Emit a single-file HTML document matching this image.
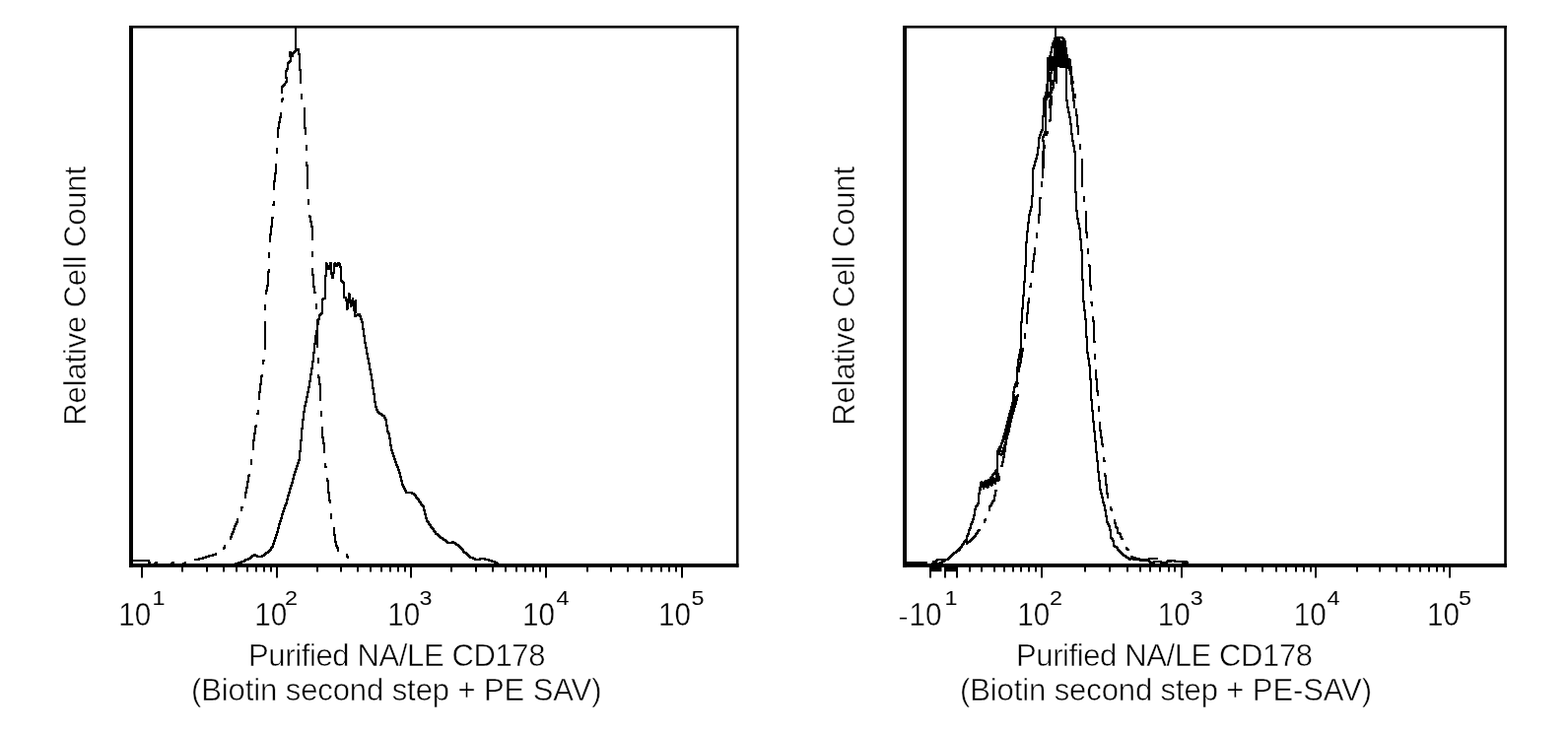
<!DOCTYPE html>
<html><head><meta charset="utf-8"><title>CD178 histograms</title>
<style>html,body{margin:0;padding:0;background:#fff;width:1591px;height:743px;overflow:hidden}svg{display:block}</style>
</head><body>
<svg width="1591" height="743" viewBox="0 0 1591 743" fill="#000"><rect x="131" y="26" width="4" height="549.8"/>
<rect x="131" y="26" width="618.5" height="2.6"/>
<rect x="746.9" y="26" width="2.6" height="549.8"/>
<rect x="131" y="572" width="618.5" height="3.8"/>
<rect x="143" y="575" width="2" height="11.5"/>
<rect x="280" y="575" width="2" height="11.5"/>
<rect x="416" y="575" width="2" height="11.5"/>
<rect x="553" y="575" width="2" height="11.5"/>
<rect x="691" y="575" width="2" height="11.5"/>
<rect x="184" y="575" width="2" height="5.5"/>
<rect x="209" y="575" width="2" height="5.5"/>
<rect x="226" y="575" width="2" height="5.5"/>
<rect x="239" y="575" width="2" height="5.5"/>
<rect x="250" y="575" width="2" height="5.5"/>
<rect x="259" y="575" width="2" height="5.5"/>
<rect x="267" y="575" width="2" height="5.5"/>
<rect x="274" y="575" width="2" height="5.5"/>
<rect x="321" y="575" width="2" height="5.5"/>
<rect x="345" y="575" width="2" height="5.5"/>
<rect x="362" y="575" width="2" height="5.5"/>
<rect x="375" y="575" width="2" height="5.5"/>
<rect x="386" y="575" width="2" height="5.5"/>
<rect x="395" y="575" width="2" height="5.5"/>
<rect x="403" y="575" width="2" height="5.5"/>
<rect x="410" y="575" width="2" height="5.5"/>
<rect x="457" y="575" width="2" height="5.5"/>
<rect x="482" y="575" width="2" height="5.5"/>
<rect x="499" y="575" width="2" height="5.5"/>
<rect x="512" y="575" width="2" height="5.5"/>
<rect x="523" y="575" width="2" height="5.5"/>
<rect x="532" y="575" width="2" height="5.5"/>
<rect x="540" y="575" width="2" height="5.5"/>
<rect x="547" y="575" width="2" height="5.5"/>
<rect x="595" y="575" width="2" height="5.5"/>
<rect x="619" y="575" width="2" height="5.5"/>
<rect x="636" y="575" width="2" height="5.5"/>
<rect x="650" y="575" width="2" height="5.5"/>
<rect x="660" y="575" width="2" height="5.5"/>
<rect x="670" y="575" width="2" height="5.5"/>
<rect x="678" y="575" width="2" height="5.5"/>
<rect x="685" y="575" width="2" height="5.5"/>
<rect x="916" y="26" width="4" height="549.8"/>
<rect x="916" y="26" width="612.8" height="2.6"/>
<rect x="1526.2" y="26" width="2.6" height="549.8"/>
<rect x="916" y="572" width="612.8" height="3.8"/>
<rect x="943" y="575" width="2" height="11.5"/>
<rect x="958" y="575" width="2" height="11.5"/>
<rect x="970" y="575" width="2" height="11.5"/>
<rect x="1056" y="575" width="2" height="11.5"/>
<rect x="1198" y="575" width="2" height="11.5"/>
<rect x="1334" y="575" width="2" height="11.5"/>
<rect x="1470" y="575" width="2" height="11.5"/>
<rect x="983" y="575" width="2" height="5.5"/>
<rect x="995" y="575" width="2" height="5.5"/>
<rect x="1008" y="575" width="2" height="5.5"/>
<rect x="1018" y="575" width="2" height="5.5"/>
<rect x="1027" y="575" width="2" height="5.5"/>
<rect x="1035" y="575" width="2" height="5.5"/>
<rect x="1043" y="575" width="2" height="5.5"/>
<rect x="1050" y="575" width="2" height="5.5"/>
<rect x="1100" y="575" width="2" height="5.5"/>
<rect x="1125" y="575" width="2" height="5.5"/>
<rect x="1143" y="575" width="2" height="5.5"/>
<rect x="1156" y="575" width="2" height="5.5"/>
<rect x="1166" y="575" width="2" height="5.5"/>
<rect x="1176" y="575" width="2" height="5.5"/>
<rect x="1185" y="575" width="2" height="5.5"/>
<rect x="1191" y="575" width="2" height="5.5"/>
<rect x="1239" y="575" width="2" height="5.5"/>
<rect x="1263" y="575" width="2" height="5.5"/>
<rect x="1280" y="575" width="2" height="5.5"/>
<rect x="1294" y="575" width="2" height="5.5"/>
<rect x="1304" y="575" width="2" height="5.5"/>
<rect x="1314" y="575" width="2" height="5.5"/>
<rect x="1322" y="575" width="2" height="5.5"/>
<rect x="1329" y="575" width="2" height="5.5"/>
<rect x="1376" y="575" width="2" height="5.5"/>
<rect x="1399" y="575" width="2" height="5.5"/>
<rect x="1416" y="575" width="2" height="5.5"/>
<rect x="1429" y="575" width="2" height="5.5"/>
<rect x="1440" y="575" width="2" height="5.5"/>
<rect x="1449" y="575" width="2" height="5.5"/>
<rect x="1457" y="575" width="2" height="5.5"/>
<rect x="1464" y="575" width="2" height="5.5"/>
<rect x="944" y="575" width="11.5" height="5.2"/>
<rect x="958" y="575" width="14" height="5.2"/>
<text x="153.20" y="634.6" font-family="Liberation Sans, Arial, sans-serif" stroke="#fff" stroke-width="0.4" font-size="33" text-anchor="end" textLength="33" lengthAdjust="spacingAndGlyphs">10</text>
<text x="154.50" y="613.6" font-family="Liberation Sans, Arial, sans-serif" font-size="21" textLength="13" lengthAdjust="spacingAndGlyphs">1</text>
<text x="291.20" y="634.6" font-family="Liberation Sans, Arial, sans-serif" stroke="#fff" stroke-width="0.4" font-size="33" text-anchor="end" textLength="33" lengthAdjust="spacingAndGlyphs">10</text>
<text x="289.00" y="613.6" font-family="Liberation Sans, Arial, sans-serif" font-size="21" textLength="13" lengthAdjust="spacingAndGlyphs">2</text>
<text x="426.30" y="634.6" font-family="Liberation Sans, Arial, sans-serif" stroke="#fff" stroke-width="0.4" font-size="33" text-anchor="end" textLength="33" lengthAdjust="spacingAndGlyphs">10</text>
<text x="425.40" y="613.6" font-family="Liberation Sans, Arial, sans-serif" font-size="21" textLength="13" lengthAdjust="spacingAndGlyphs">3</text>
<text x="562.90" y="634.6" font-family="Liberation Sans, Arial, sans-serif" stroke="#fff" stroke-width="0.4" font-size="33" text-anchor="end" textLength="33" lengthAdjust="spacingAndGlyphs">10</text>
<text x="564.60" y="613.6" font-family="Liberation Sans, Arial, sans-serif" font-size="21" textLength="13" lengthAdjust="spacingAndGlyphs">4</text>
<text x="700.90" y="634.6" font-family="Liberation Sans, Arial, sans-serif" stroke="#fff" stroke-width="0.4" font-size="33" text-anchor="end" textLength="33" lengthAdjust="spacingAndGlyphs">10</text>
<text x="701.50" y="613.6" font-family="Liberation Sans, Arial, sans-serif" font-size="21" textLength="13" lengthAdjust="spacingAndGlyphs">5</text>
<text x="955.40" y="634.6" font-family="Liberation Sans, Arial, sans-serif" stroke="#fff" stroke-width="0.4" font-size="33" text-anchor="end" textLength="33" lengthAdjust="spacingAndGlyphs">10</text>
<text x="958.50" y="613.6" font-family="Liberation Sans, Arial, sans-serif" font-size="21" textLength="13" lengthAdjust="spacingAndGlyphs">1</text>
<text x="1065.30" y="634.6" font-family="Liberation Sans, Arial, sans-serif" stroke="#fff" stroke-width="0.4" font-size="33" text-anchor="end" textLength="33" lengthAdjust="spacingAndGlyphs">10</text>
<text x="1065.00" y="613.6" font-family="Liberation Sans, Arial, sans-serif" font-size="21" textLength="13" lengthAdjust="spacingAndGlyphs">2</text>
<text x="1207.70" y="634.6" font-family="Liberation Sans, Arial, sans-serif" stroke="#fff" stroke-width="0.4" font-size="33" text-anchor="end" textLength="33" lengthAdjust="spacingAndGlyphs">10</text>
<text x="1207.80" y="613.6" font-family="Liberation Sans, Arial, sans-serif" font-size="21" textLength="13" lengthAdjust="spacingAndGlyphs">3</text>
<text x="1345.80" y="634.6" font-family="Liberation Sans, Arial, sans-serif" stroke="#fff" stroke-width="0.4" font-size="33" text-anchor="end" textLength="33" lengthAdjust="spacingAndGlyphs">10</text>
<text x="1346.40" y="613.6" font-family="Liberation Sans, Arial, sans-serif" font-size="21" textLength="13" lengthAdjust="spacingAndGlyphs">4</text>
<text x="1480.90" y="634.6" font-family="Liberation Sans, Arial, sans-serif" stroke="#fff" stroke-width="0.4" font-size="33" text-anchor="end" textLength="33" lengthAdjust="spacingAndGlyphs">10</text>
<text x="1480.10" y="613.6" font-family="Liberation Sans, Arial, sans-serif" font-size="21" textLength="13" lengthAdjust="spacingAndGlyphs">5</text>
<text x="911.10" y="637" font-family="Liberation Sans, Arial, sans-serif" stroke="#fff" stroke-width="0.8" font-size="33">-</text>
<text x="252" y="675.7" font-family="Liberation Sans, Arial, sans-serif" stroke="#fff" stroke-width="0.5" font-size="31" textLength="301.5" lengthAdjust="spacing">Purified NA/LE CD178</text>
<text x="194" y="711" font-family="Liberation Sans, Arial, sans-serif" stroke="#fff" stroke-width="0.5" font-size="31" textLength="416.5" lengthAdjust="spacing">(Biotin second step + PE SAV)</text>
<text x="1031" y="675.7" font-family="Liberation Sans, Arial, sans-serif" stroke="#fff" stroke-width="0.5" font-size="31" textLength="301" lengthAdjust="spacing">Purified NA/LE CD178</text>
<text x="974" y="711" font-family="Liberation Sans, Arial, sans-serif" stroke="#fff" stroke-width="0.5" font-size="31" textLength="418" lengthAdjust="spacing">(Biotin second step + PE-SAV)</text>
<text transform="translate(86.5,431.7) rotate(-90)" font-family="Liberation Sans, Arial, sans-serif" stroke="#fff" stroke-width="0.5" font-size="31" textLength="262.8" lengthAdjust="spacing">Relative Cell Count</text>
<text transform="translate(867.2,431.7) rotate(-90)" font-family="Liberation Sans, Arial, sans-serif" stroke="#fff" stroke-width="0.5" font-size="31" textLength="262.8" lengthAdjust="spacing">Relative Cell Count</text>
<path d="M135 574H136H137H138H139H140H141H142H143H144H145H146H147H148H149H150H151H152H153H154H155H156H157H158H159H160H161H162H163H164H165H166H167H168H169H170H171H172H173H174H175H176H177H178H179H180H181H182H183H184H185H186H187H188H189H190H191H192H193H194H195H196H197H198H199H200H201H202H203H204H205H206H207H208H209H210H211H212H213H214H215H216H217H218H219H220H221H222H223H224H225H226H227H228H229H230H231H232H233H234H235H236H237H238V573H239V572H240H241H242V571H243H244H245V570H246H247H248V569H249V568H250H251H252V567H253H254V566H255V565H256V564H257H258V563H259V564H260H261V565H262H263H264H265H266V564H267H268V563H269V562H270V561H271H272V560H273V559H274V558H275V557V556H276V555H277V554V553V552H278V551V550V549H279V548V547V546H280V545V544V543H281V542V541V540H282V539V538V537V536H283V535V534V533V532H284V531V530V529H285V528V527V526H286V525V524V523V522H287V521V520V519H288V518V517V516H289V515V514V513H290V512V511H291V510V509V508V507H292V506V505V504V503H293V502V501V500H294V499V498V497V496H295V495V494V493H296V492V491V490H297V489V488V487V486H298V485V484V483V482H299V481V480V479H300V478V477V476H301V475V474V473H302V472V471V470H303V469V468V467H304V466V465V464V463V462V461V460V459V458H305V457V456V455V454V453V452V451V450V449V448V447H306V446V445V444V443V442V441V440V439V438V437V436V435H307V434V433V432V431V430V429V428V427V426H308V425V424V423V422V421V420V419V418H309V417V416V415V414V413V412H310V411V410V409V408H311V407V406V405V404V403H312V402V401V400V399V398H313V397V396V395V394V393H314V392V391V390V389V388V387H315V386V385V384V383V382V381V380H316V379V378V377V376V375V374H317V373V372V371V370V369V368V367H318V366V365V364V363V362V361V360V359V358H319V357V356V355V354V353V352V351V350V349H320V348V347V346V345V344V343V342V341H321V340V339V338V337V336H322V335V334V333V332V331V330V329H323V328V327V326V325V324H324V323V322V321V320H325V319H326V318H327V317V316V315V314V313V312V311V310V309V308V307V306V305V304H328V303H329H330V302V301V300V299V298V297V296V295V294V293V292V291V290V289V288V287V286V285V284V283V282V281V280H331V279V278V277V276V275V274V273V272V271V270V269V268V267V266V267V268H332V269V270V271V272H333V273V274V273H334V272V271V270H335V269V268V267H336V266V267V268V269V270V271V272V273V274V275V276V277V278H337V279V280V281V282H338V283V282V281V280V279V278V277H339V276V275V274V273V272V271V270V269V268H340V267V266V267V268H341V269V270H342V271V270V269H343V268V267H344V266V267V268H345V269V270V271H346V272V273V274V275V276V277V278V279V280V281V282V283V284V285H347V286H348V287H349V288V289V290V291V292V293V294V295V296V297V298V299V300V301V302H350H351V303V304V305H352V306V307V308V309V310V311V312V313V314V315V314V313H353V312V311V310V309V308V307V306V305V304H354V303V302V301V300V299V298V297V298V299H355V300V301V302V303V304V305V306V307H356V308V309V310V311V312V311V310H357V309V308V307V306V305H358V304V303V302V303V304V305V306V307V308V309H359V310V311V312V313V314V315V316V315V314V313H360V312V311V310V309V308V307V306H361V305V304V305V306V307V308V309V310V311V312V313V314V315V316V317H360V318V319V320V321H361V320H362H363V319H364H365V320V321H366V322V323V324H367V325V326V327H368V328V329V330V331V332V333V334H369V335V336V337V338V339V340V341H370V342V343V344V345V346V347V348H371V349V350V351V352V353H372V354V355V356V357V358V359H373V360V361V362V363V364H374V365V366V367V368V369H375V370V371V372V373V374V375H376V376V377V378V379V380H377V381V382V383V384V385V386H378V387V388V389V390V391V392V393V394H379V395V396V397V398V399V400H380V401V402V403V404V405V406V407V408H381V409V410V411V412V413H382V414V415V416H383V417V418H384V419H385V420H386H387V421H388V422H389H390V423V424H391V425V426H392V427V428V429V430V431V432H393V433V434V435V436V437V438H394V439V440H395V441V442V443V444V445H396V446V447V448V449V450V451V452H397V453V454V455V456V457H398V458V459V460H399V461V462V463H400V464V465V466H401V467V468V469H402V470V471V472H403V473V474H404V475V476V477H405V478V479V480H406V481V482V483V484H407V485V486V487V488H408V489V490V491V492H409V493V494H410V495V496H411V497V498H412V499V500H413H414H415H416H417H418V501H419H420V502H421V503H422V504V505H423V506H424V507H425V508V509H426V510H427V511V512H428V513H429V514H430V515V516V517V518H431V519V520V521V522H432V523V524V525V526H433V527V528V529H434V530H435V531V532H436V533H437V534V535H438V536H439V537H440V538V539H441V540H442V541V542H443H444V543H445V544H446V545H447V546H448H449V547H450V548H451H452V549H453V550H454V551H455H456H457H458H459V550H460V551H461H462V552H463V553H464H465V554H466V555H467V556H468V557H469V558H470V559V560H471V561H472H473V562H474V563H475V564H476V565H477V566H478H479H480V567H481H482V568H483H484H485H486H487V567H488H489H490H491H492V568H493H494H495H496V569H497H498H499V570H500H501H502V571H503H504V572H505V573H506V574H507H508H509H510H511H512H513H514H515" fill="none" stroke="#000" stroke-width="2" stroke-linejoin="miter" shape-rendering="crispEdges"/>
<path d="M133 569H134H135H136H137H138H139H140H141H142H143H144H145H146H147H148H149H150H151V570V571H152V572V573V574H153H154H155H156H157V573V572H158V571H159V572V573H160V574H161H162H163H164H165H166H167H168H169H170H171H172H173V573H174V572H175V571H176V572V573H177V574H178H179H180H181H182H183H184H185V573H186V572H187V571" fill="none" stroke="#000" stroke-width="2" stroke-linejoin="miter" shape-rendering="crispEdges"/>
<path d="M290 85H289V86H288V87H287V88H286V89V90V91V92V93V94V95H287V96H288V97H289H290V98H289V99H288V100H287V101H286V102V103V104V105V106V107V108V109V110V111V112H285V113V114V115V116V117V118V119H284V120V121V122V123V124H283V125V126V127V128V129V130H282V131V132V133V134V135V136V137V138V139H281V140V141V142V143V144V145V146V147V148V149V150V151V152V153V154V155V156V157V158V159V160V161V162V163V164H280V165V166V167V168V169V170V171V172V173V174V175V176H279V177V178V179V180V181V182V183V184H278V185V186V187V188V189V190V191V192V193V194V195V196V197V198V199V200V201V202V203V204V205V206V207V208H277V209V210V211V212V213V214V215V216V217V218V219V220V221H276V222V223V224V225V226V227V228V229V230H275V231V232V233V234V235V236V237V238H274V239V240V241V242V243V244V245V246H273V247V248V249V250V251V252V253V254V255V256V257V258V259V260V261V262V263V264V265V266V267V268V269V270V271V272V273V274V275V276H272V277V278V279V280V281V282V283V284V285V286V287V288V289V290H271V291V292V293V294V295H270V296V297V298V299V300H269V301V302V303V304V305V306V307V308V309V310V311V312V313V314V315V316V317V318V319V320V321V322V323V324V325V326V327V328V329V330V331V332V333V334V335V336V337V338V339V340V341V342V343V344V345V346V347V348V349V350V351V352V353V354V355V356V357H268V358V359V360V361V362V363V364V365V366H267V367V368V369V370V371V372V373V374H266V375V376V377V378V379V380V381V382H265V383V384V385V386V387V388V389V390H264V391V392V393V394V395V396V397V398H263V399V400V401V402V403V404V405V406V407V408V409V410V411V412H262V413V414V415V416V417V418V419V420H261V421V422V423V424V425V426H260V427V428V429V430V431V432V433H259V434V435V436V437V438V439V440H258V441V442V443V444V445V446V447H257V448V449V450V451V452V453V454V455V456H256V457V458V459V460V461V462V463V464V465V466H255V467V468V469V470V471V472H254V473V474V475V476V477H253V478V479V480V481V482V483H252V484V485V486V487V488V489H251V490V491V492V493V494V495H250V496V497V498V499V500H249V501V502V503V504V505H248V506V507V508H247V509V510V511V512H246V513V514V515H245V516V517V518H244V519V520V521V522H243V523V524V525H242V526V527H241V528V529V530H240V531V532H239V533V534H238V535V536V537H237V538V539V540H236V541V542H235V543V544V545H234V546V547H233V548H232V549H231V550V551H230V552H229V553V554H228V555V556H227V557H226V558H225V559H224V560H223V561H222V562H221H220H219V563H218H217H216V564H215H214H213H212V565H211H210H209V566H208H207H206V567H205H204H203H202V568H201H200H199H198V569H197H196H195H194V570H193H192H191H190H189V571H188H187" fill="none" stroke="#000" stroke-width="2" stroke-linejoin="miter" shape-rendering="crispEdges" stroke-dasharray="29 11 6 11" stroke-dashoffset="15"/>
<path d="M290 85V84V83H291V82V81V80V79H290V78V77V76V75V74V73V72H291V71V70H292V69V68V67V66V65V64H293V63H294V62H295V61V60V59V58V57H294V56V55V54V53V52V53H295V54V55H296V56V57H297V56V55V54H298V53H299V52H300V51H301V50H302H303V51V52V53V54V55H304V56V57V58V59V60V61V62V63V64V65V66V67V68V69V70V71H305V72V73V74V75V76" fill="none" stroke="#000" stroke-width="2" stroke-linejoin="miter" shape-rendering="crispEdges"/>
<path d="M305 76V77V78V79V80V81V82V83V84V85V86H306V87V88V89V90V91V92V93V94V95V96V97V98V99V100V101V102V103V104V105V106V107H307V108H308V109V110H309V111V112V113V114V115V116V117V118V119V120V121V122V123V124V125V126V127V128V129V130H310V131V132V133V134V135V136V137V138V139V140H311V141V142V143V144V145V146V147V148V149V150V151V152V153V154V155V156V157V158V159V160V161V162V163V164V165V166V167V168H312V169V170V171V172V173V174V175V176V177V178V179V180V181V182V183V184V185V186V187V188V189V190V191H313V192V193V194V195V196V197V198V199V200V201V202V203V204V205V206V207V208V209V210V211V212H314V213V214V215V216V217V218V219V220H315V221V222V223V224V225H316V226V227V228V229V230H317V231V232V233V234V235V236V237V238V239V240V241V242V243V244V245V246V247V248V249V250V251V252V253V254V255V256V257V258V259V260V261V262V263V264V265V266V267V268V269V270V271V272V273V274V275V276V277V278V279H318V280V281V282V283V284V285V286V287V288V289V290V291H319V292V293V294V295V296V297H320V298V299V300V301V302V303V304H321V305V306V307V308V309V310V311V312V313V314V315V316V317V318H322V319V320V321V322V323V324V325V326V327V328V329V330V331V332V333V334V335V336V337V338V339V340V341V342V343V344V345V346V347V348V349V350V351V352V353V354V355V356V357V358V359H323V360V361V362V363V364V365V366V367V368V369V370V371V372V373V374V375V376V377V378V379V380V381V382V383H324V384V385V386V387V388V389V390H325V391V392V393V394V395V396V397V398V399V400V401V402V403V404V405V406V407V408V409V410V411V412V413H326V414V415V416V417V418V419V420V421V422V423V424V425V426V427V428V429V430H327V431V432V433V434V435V436V437V438V439V440V441V442V443V444H328V445V446V447V448V449V450H329V451V452V453V454V455V456V457V458V459V460V461V462H330V463V464V465V466V467V468V469V470V471V472V473V474H331V475V476V477V478H332V479V480V481V482V483V484V485V486V487V488H333V489V490V491V492V493V494V495V496V497V498V499V500H334V501V502V503V504V505V506V507V508H335V509V510V511V512V513V514V515V516H336V517V518V519V520V521V522V523V524V525V526H337V527V528V529V530H338V531V532V533V534V535V536H339V537V538V539V540V541V542V543H340V544V545V546V547V548V549V550H341V551V552V553V554H342V555V556H343V557V558V559V560H344H345V561H346V562H347H348H349H350V563H351H352V564V565H353V566V567H354V568V569V570H355V571H356V572V573H357V574H358H359H360H361H362H363H364H365" fill="none" stroke="#000" stroke-width="2" stroke-linejoin="miter" shape-rendering="crispEdges" stroke-dasharray="29 11 6 11" stroke-dashoffset="20"/>
<rect x="299" y="27" width="2" height="24"/>
<path d="M920 571H921H922H923H924H925H926H927H928H929H930H931H932H933H934H935H936H937H938H939H940V572V573H941V574H942H943H944H945V573H946V572H947V571V570H948H949H950V569H951V568H952H953H954H955H956H957H958H959H960H961H962V567H963V566H964V565H965V564H966V563H967V562H968V561H969H970V560H971V559H972V558H973V557H974V556H975V555H976V554V553H977V552H978V551V550H979V549H980V548H981V547V546V545V544H982V543V542H983V541V540V539V538H984V537V536H985V535V534V533V532H986V531V530H987V529V528V527H988V526V525V524V523H989V522V521V520V519V518V517H990V516V515V514H991V513H992V512V511H993V510V509V508V507V506V505V504V503V502V501H994V500V499V498V497H995V496V495V494H996V493V492V491H997V490H998H999V489H1000H1001V488H1002H1003V487H1004H1005V486V485H1006V484H1007V483V482H1008V481H1009V480H1010V479V478H1011V477H1012V476V475V474V473V472V471V470V469V468V467V466V465V464V463V462V461V460V459V458H1013V457V456H1014V455V454H1015V453H1016V452V451V450H1017V449V448H1018V447V446H1019V445V444V443H1020V442V441H1021V440V439V438V437H1022V436V435V434H1023V433V432V431V430H1024V429V428V427H1025V426V425V424V423V422V421V420H1026V419V418V417V416V415V414H1027V413V412V411V410V409H1028V408V407V406V405V404V403V402V401V400V399V398H1029V397V396V395V394V393H1030V392V391V390H1031V389V388H1032V387V386V385V384V383V382V381V380V379V378V377V376V375V374V373H1033V372V371V370V369V368V367V366V365H1034V364V363V362V361V360H1035V359V358V357V356V355H1036V354V353V352V351V350V349V348V347V346V345V344V343V342V341V340V339V338V337V336V335V334V333V332V331V330V329V328V327H1037V326V325V324V323V322V321V320V319V318V317V316V315V314V313H1038V312V311V310V309V308V307V306V305V304V303V302V301V300H1039V299V298V297V296V295V294V293V292V291V290V289V288V287V286H1040V285V284V283V282V281V280V279V278V277V276V275V274V273V272V271V270H1041V269V268V267V266V265V264V263V262V261V260V259V258V257V256V255V254V253V252V251V250V249V248V247V246H1042V245V244V243V242V241V240V239V238V237V236V235H1043V234V233V232V231V230V229V228V227V226H1044V225V224V223V222V221V220V219V218H1045V217V216V215V214H1046V213V212V211V210H1047V209V208V207V206V205V204V203V202V201V200V199H1048V198V197V196V195V194V193V192V191V190V189V188V187V186V185V184V183V182V181V180V179V178V177V176V175V174V173V172V171H1049V170V169V168H1050V167V166V165V164H1051V163V162V161H1052V160V159V158V157H1053V156V155V154V153V152V151V150H1054V149V148V147V146V145V144V143V142V141V140H1055V139V138V137H1056V136V135V134H1057V133V132H1058V131V130V129V128V127V126V125V124V123V122V121V120V119V118H1059V117V116V115V114V113V112V111V110V109V108V107V106V105V104V103V102V101V100H1060V99V98H1061V97H1062V96V95V94H1063V93V92V91V90V89V88V87V86V85V84V83V82H1064V81V80V79V78V77V76V75V74V73V72V71V70V69V68H1065V67V66V65V64V63V62V61V60V59V58V57H1066V56V55V54V53H1067V52V51V50V49V48H1068V47V46V45V44H1069V43V42H1070V41V40V39H1071V38H1072H1073H1074H1075H1076H1077H1078V39H1079V40H1080V41V42H1081V43V44V45V46V47V48V49H1082V50V51V52V53V54V55V56H1083V57V58V59V60V61V62V63H1082V64V65V66V67V68V69V70V71V72V73V74V75V76V77V78V79V80V81V82V83V84V85V86V87V88V89V90V91V92V93V94V95V96V97V98V99V100V101V102H1083V103V104V105V106V107V108V109H1084V110V111V112V113V114H1085V115V116V117V118V119H1086V120V121V122V123V124V125V126H1087V127V128V129V130V131V132V133V134V135V136H1088V137V138V139V140V141V142V143H1089V144V145V146V147V148H1090V149V150V151V152V153V154H1091V155V156V157V158V159V160V161V162V163V164V165V166V167V168V169V170V171V172V173V174V175V176V177V178V179V180V181V182V183V184V185V186V187V188V189V190V191V192V193V194V195H1092V196V197V198V199V200V201V202V203V204V205V206V207V208V209V210V211V212V213V214H1093V215V216V217V218V219V220V221V222H1094V223V224V225V226V227H1095V228V229V230V231V232H1096V233V234V235V236V237V238V239V240V241V242V243H1097V244V245V246V247V248V249V250V251V252V253V254H1098V255V256V257V258V259V260V261V262V263V264V265V266V267V268V269V270V271V272V273V274V275V276V277V278V279V280V281V282V283V284H1099V285V286V287V288V289V290V291V292V293V294V295V296V297V298V299V300V301V302V303V304V305V306H1100V307V308V309V310V311V312V313V314V315H1101V316V317V318V319V320V321V322V323V324H1102V325V326V327V328V329V330V331V332V333V334V335V336V337V338V339V340V341V342H1103V343V344V345V346V347V348V349V350V351V352V353V354V355V356V357V358H1104V359V360V361V362V363V364H1105V365V366V367V368V369V370V371H1106V372V373V374V375V376V377V378V379V380V381V382V383V384V385H1107V386V387V388V389V390V391V392V393V394V395V396V397V398V399V400V401V402V403V404V405V406H1108V407V408V409V410V411V412V413V414V415V416V417H1109V418V419V420V421V422V423V424V425V426V427V428H1110V429V430V431V432V433V434V435V436V437V438H1111V439V440V441V442V443V444V445V446V447V448H1112V449V450V451V452V453V454V455V456V457V458V459H1113V460V461V462V463V464V465V466V467V468H1114V469V470V471V472V473V474V475V476V477V478V479H1115V480V481V482V483V484V485V486V487V488H1116V489V490V491V492V493V494V495V496V497H1117V498V499V500V501H1118V502V503V504V505H1119V506V507V508V509V510H1120V511V512V513H1121V514V515V516V517V518H1122V519V520V521V522V523V524H1123V525V526V527V528V529V530H1124V531V532H1125V533V534H1126V535V536V537V538H1127V539V540V541V542V543V544V545V546H1128V547H1129V548V549H1130V550V551V552V553V554H1131V555H1132H1133V556H1134V557V558H1135V559H1136V560H1137V561H1138V562H1139V563H1140V564H1141H1142V565H1143V566H1144H1145V567H1146V568H1147V567H1148V566V565V564V565H1149V566V567H1150V568H1151H1152H1153H1154H1155H1156H1157V569H1158H1159H1160H1161H1162H1163V568H1164H1165V569H1166V570H1167V571H1168H1169H1170H1171V570H1172H1173H1174H1175H1176H1177H1178V571H1179H1180H1181H1182H1183H1184V570H1185H1186H1187V569H1188H1189H1190H1191H1192V570H1193H1194H1195H1196H1197H1198H1199H1200H1201H1202H1203H1204V571H1205V572V573H1206V574H1207H1208H1209H1210" fill="none" stroke="#000" stroke-width="2" stroke-linejoin="miter" shape-rendering="crispEdges"/>
<path d="M945 574H946V573H947H948H949V572H950H951H952H953H954V571H955H956V570H957H958V569H959V568H960H961H962V567H963V566H964V565H965V564H966V563H967V562H968V561H969H970V560H971V559H972H973V558H974V557H975H976V556H977V555H978V554H979V553H980V552H981V551H982V550H983H984V549H985V548H986V547H987V546H988V545H989V544H990V543V542H991V541H992V540V539H993V538H994V537V536H995V535H996V534H997V533V532H998V531H999V530V529V528H1000V527V526H1001V525V524H1002V523V522V521H1003V520V519V518H1004V517V516V515V514H1005V513H1006V512V511H1007V510V509H1008V508H1009V507V506V505V504V503H1010V502V501V500V499V498H1011V497V496V495V494H1012V493V492V491V490H1013V489V488V487H1014V486V485V484V483V482H1015V481V480V479V478V477H1016V476V475V474V473H1017V472V471V470V469H1018V468V467V466V465V464H1019V463V462V461V460V459V458H1020V457V456V455V454V453V452V451H1021V450V449V448V447V446H1022V445V444V443V442V441H1023V440V439V438V437V436H1024V435V434V433V432V431H1025V430V429V428V427V426H1026V425V424V423V422V421V420H1027V419V418V417V416V415H1028V414V413V412V411V410H1029V409V408V407V406H1030V405V404V403V402V401V400H1031V399V398V397V396H1032V395V394V393V392V391V390V389H1033V388V387V386V385V384V383V382H1034V381V380V379V378V377V376V375V374V373V372H1035V371V370V369V368H1036V367V366V365V364V363V362H1037V361V360V359V358V357V356H1038V355V354V353V352V351V350H1039V349V348V347V346V345V344H1040V343V342V341V340V339V338H1041V337V336V335V334V333V332V331V330H1042V329V328V327V326V325V324V323V322V321V320V319V318H1043V317V316V315V314V313V312V311V310V309V308V307H1044V306V305V304V303V302V301V300V299V298H1045V297V296V295V294V293V292V291H1046V290V289V288V287V286V285V284V283H1047V282V281V280V279V278V277V276H1048V275V274V273V272V271V270V269V268V267V266V265H1049V264V263V262V261V260V259V258H1050V257V256V255V254V253V252H1051V251V250V249V248V247V246V245V244H1052V243V242V241V240V239V238V237V236V235V234H1053V233V232V231V230V229V228V227V226H1054V225V224V223V222V221V220V219V218H1055V217V216V215V214V213V212V211V210V209V208V207V206V205V204V203V202V201H1056V200V199V198V197V196V195V194V193V192V191V190H1057V189V188V187V186V185V184V183V182V181V180V179H1058V178V177V176V175V174V173V172V171V170H1059V169V168V167V166V165V164V163V162V161V160V159V158V157V156V155V154V153V152V151V150H1060V149V148V147V146V145V144V143V142H1061V141V140V139V138H1062V137V136V135H1063V134V133V132H1064V131V130V129H1065V128V127V126V125V124V123V122H1066V121V120V119V118V117V116V115V114V113V112V111V110V109V108V107V106H1067V105V104V103V102V101V100V99V98V97V96V95V94V93V92V91V90V89V88H1068V87V86V85V84V83V82V81V80V79V78V77V76V75V74V73V72V71V70H1069V69V68V67V66V65V64V63V62H1070V61V60V59V58V57V56H1071V55V54V53V52V51V50V49V48H1072V47V46V45H1073H1074H1075H1076H1077H1078V46H1079V47V48V49H1080V50V51V52V53H1081V54V55V56H1082V57V58V59H1083V60V61V62H1084V63V64V65V66H1085V67V68V69H1086V70V71V72V73H1087V74V75V76V77V78H1088V79V80V81V82V83H1089V84V85V86V87V88V89H1090V90V91V92V93V94V95V96H1091V97V98V99V100V101V102V103V104V105V106H1092V107V108V109V110V111V112V113V114V115V116V117H1093V118V119V120V121V122V123V124V125V126V127V128H1094V129V130V131V132V133V134V135V136V137V138H1095V139V140V141V142V143V144V145H1096V146V147V148V149V150V151V152V153H1097V154V155V156V157V158H1098V159V160V161V162V163V164V165V166V167V168V169V170V171V172V173V174V175V176V177V178V179V180V181V182V183V184V185V186V187V188V189V190V191V192V193V194H1099V195V196V197V198V199H1100V200V201V202V203V204V205V206H1101V207V208V209V210V211V212V213H1102V214V215V216V217V218V219V220V221V222V223V224V225V226V227V228V229V230V231V232V233V234V235V236H1103V237V238V239V240V241V242V243V244V245V246V247V248V249H1104V250V251V252V253V254V255V256V257V258H1105V259V260V261V262V263V264V265V266V267V268V269V270H1106V271V272V273V274V275V276V277V278V279V280V281V282V283V284V285V286V287V288V289V290H1107V291V292V293V294V295V296V297V298V299V300V301V302V303V304V305V306V307H1108V308V309V310V311V312V313V314H1109V315V316V317V318V319V320V321V322V323V324V325V326H1110V327V328V329V330V331V332V333V334V335V336V337V338V339V340V341V342V343V344V345V346V347H1111V348V349V350V351V352V353V354V355V356V357V358V359V360V361V362V363V364V365V366V367V368V369H1112V370V371V372V373V374V375V376V377V378V379V380V381V382V383V384V385H1113V386V387V388V389V390V391V392V393V394V395V396V397H1114V398V399V400V401V402V403V404V405H1115V406V407V408V409V410V411V412V413V414V415V416V417V418H1116V419V420V421V422V423V424V425V426V427V428V429V430V431V432V433V434V435V436V437H1117V438V439V440V441V442V443V444H1118V445V446V447V448V449V450V451H1119V452V453V454V455V456V457H1120V458V459V460V461V462V463V464V465V466V467V468H1121V469V470V471V472V473V474V475V476V477V478V479V480V481V482V483H1122V484V485V486V487V488V489V490V491V492H1123V493V494V495V496V497V498V499V500V501H1124V502V503V504V505H1125V506V507V508V509H1126V510V511V512V513H1127V514V515V516V517H1128V518V519V520H1129V521V522V523V524H1130V525V526V527H1131V528V529V530V531H1132V532V533V534V535H1133V536H1134V537V538V539V540V541H1135H1136V542H1137V543V544V545H1138V546V547H1139V548V549H1140V550V551H1141V552V553V554H1142V555V556H1143V557H1144V558H1145V559V560H1146V561H1147V562V563H1148V564H1149V565H1150V566H1151H1152V567H1153H1154H1155H1156V568H1157H1158H1159H1160H1161H1162H1163H1164H1165H1166V567H1167H1168H1169H1170H1171H1172H1173H1174H1175H1176H1177H1178V568H1179H1180V569H1181H1182H1183H1184H1185H1186H1187H1188V570H1189H1190H1191H1192H1193H1194H1195H1196H1197H1198H1199H1200V571H1201H1202H1203H1204V572H1205V573H1206V574" fill="none" stroke="#000" stroke-width="2" stroke-linejoin="miter" shape-rendering="crispEdges" stroke-dasharray="29 11 6 11" stroke-dashoffset="0"/>
<rect x="1070" y="27" width="2" height="13"/>
<polygon shape-rendering="crispEdges" points="1070.5,37.0 1076.2,37.0 1076.2,41.0 1080.4,41.0 1080.4,50.0 1082.3,50.0 1082.3,57.0 1086.5,60.0 1088.4,73.0 1085.0,73.0 1083.0,69.0 1076.0,69.0 1071.0,66.0 1069.0,72.0 1064.0,72.0 1064.0,58.0 1069.4,57.0 1069.4,41.0 1070.5,41.0"/>
<path d="M1033 400V401V402H1032V403V404V405V406H1031V407V408V409V410H1030V411V412V413H1029V414V415V416V417H1028V418V419V420H1027V421V422V423V424H1026V425V426V427V428H1025V429V430V431V432V433H1024V434V435V436V437V438H1023V439V440V441H1022V442V443V444V445H1021V446V447V448V449H1020V450V451V452H1019V453V454V455H1018V456V457V458H1017V459V460V461H1016V462V463" fill="none" stroke="#000" stroke-width="2" stroke-linejoin="miter" shape-rendering="crispEdges"/>
<path d="M1029 400V401V402H1028V403V404V405V406V407V408V409H1027V410V411V412V413H1026V414V415V416V417H1025V418V419V420H1024V421V422V423V424H1023V425V426V427V428H1022V429V430V431V432H1021V433V434V435V436H1020V437V438V439V440H1019V441V442V443H1018V444V445V446V447H1017V448V449V450H1016V451V452V453V454H1015V455V456V457V458H1014V459V460V461V462" fill="none" stroke="#000" stroke-width="2" stroke-linejoin="miter" shape-rendering="crispEdges"/>
<path d="M994 499V498V497V496V495H995V494V493V492V491V490H996V489V488V489V490H997V491V492V493V494H998V495V496V497V496V495V494H999V493V492V491V490H1000V489V488V487V488V489H1001V490V491V492V493V494H1002V495V496V495V494H1003V493V492V491V490V489H1004V488V487V486V487V488H1005V489V490V491V492H1006V493V494V493V492H1007V491V490V489V488V487H1008V486V485V484V485V486H1009V487V488V489V490H1010V491V492V491V490V489V488H1011V487V486V485V484V483V482H1012V481V480V479V478V479V480V481H1013V482V483V484V485V486V487V488H1014" fill="none" stroke="#000" stroke-width="2" stroke-linejoin="miter" shape-rendering="crispEdges"/>
<path d="M1068 60V61V62V63V64V65H1067V66V67V68V69V70V71V72V73V74H1066V75V76V77V78V79V80V81V82V83V84V85V86V87V88V89V90V91V92V93V94H1065V95V96H1064V97V98H1063V99H1062V100V101H1061V102V103V104V105V106V107V108V109V110V111V112V113V114V115V116V117V118V119V120V121V122V123V124V125V126V127V128V129V130V131V132V133V134H1060V135V136V137H1059V138V139H1058V140V141V142V143H1059V144V145V146V147V148V149V150H1060H1059V151V152V153V154H1058V155V156V157V158V159V160V161V162V163V164V165V166V167V168V169V170V171V172V173V174V175V176V177V178V179V180V181" fill="none" stroke="#000" stroke-width="2" stroke-linejoin="miter" shape-rendering="crispEdges"/>
<path d="M1085 60V61V62V63V64H1086V65V66V67V68V69V70V71H1087V72V73V74V75V76V77V78V79V80H1088V81V82V83V84V85V86V87V88V89V90H1089V91V92V93V94V95V96V97V98V99V100H1090" fill="none" stroke="#000" stroke-width="2" stroke-linejoin="miter" shape-rendering="crispEdges"/>
<path d="M1063 58V59V60V61V62V63V64V65V66V67V68V69V70V71V72V73V74V75V76V77V78V79V80V81V82V83V84V85V86H1062V87V88V89V90V91V92V93V94H1061V95V96V97V98H1060V99V100V101V102V103V104V105V106V107V108V109V110" fill="none" stroke="#000" stroke-width="2" stroke-linejoin="miter" shape-rendering="crispEdges"/>
<path d="M1070 60V61V62V63V64V65V66V67V68V69V70V71V72V73V74V75V76V77V78V79V80V81V82H1069V83V84V85V86V87V88V89H1068V90V91H1067V92V93V94H1066V95V96V97V98V99V100V101V102H1065V103V104V105V106V107V108V109V110" fill="none" stroke="#000" stroke-width="2" stroke-linejoin="miter" shape-rendering="crispEdges"/>
<path d="M1072 66V67V68V69V70V71V72V73V74V75V76V77V78V79V80V81V82V83V84V85" fill="none" stroke="#000" stroke-width="2" stroke-linejoin="miter" shape-rendering="crispEdges"/>
<path d="M1086 68V69V70V71V72V73V74V75H1087V76V77V78V79V80V81V82V83V84V85H1088V86V87V88V89V90V91V92H1089V93V94V95V96V97V98V99V100V101V102H1090V103V104V105V106V107V108V109V110" fill="none" stroke="#000" stroke-width="2" stroke-linejoin="miter" shape-rendering="crispEdges"/></svg>
</body></html>
